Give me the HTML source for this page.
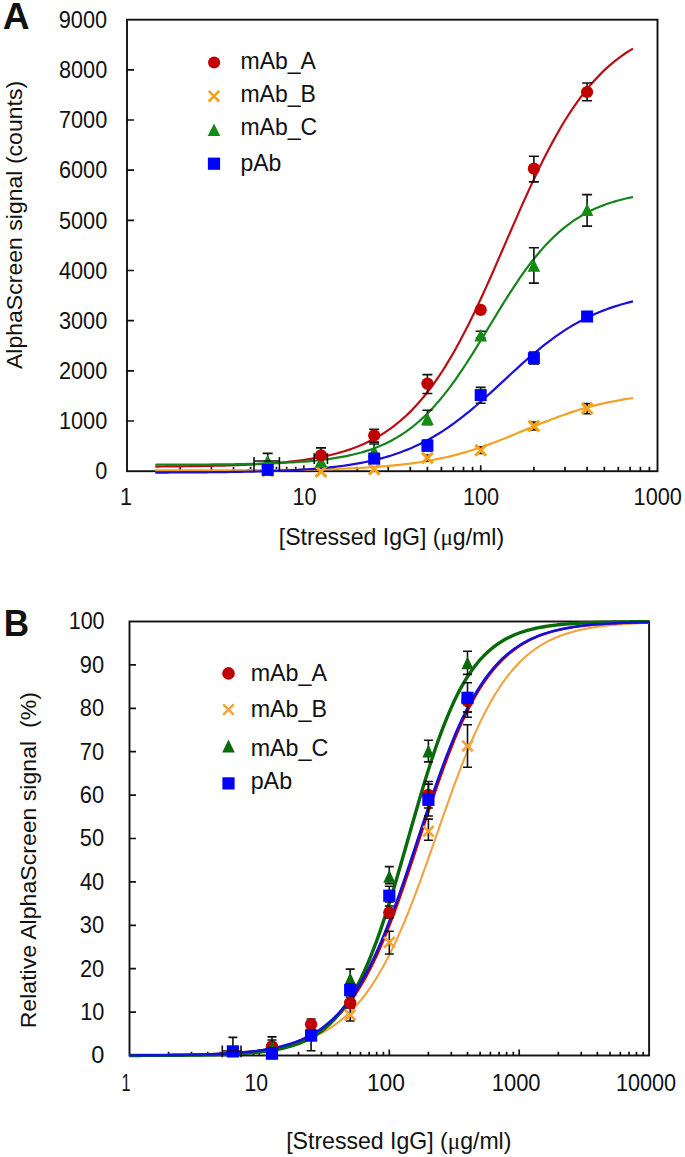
<!DOCTYPE html>
<html><head><meta charset="utf-8"><style>
html,body{margin:0;padding:0;background:#fff;}
body{width:685px;height:1157px;overflow:hidden;}
svg{display:block;}
text{font-family:"Liberation Sans",sans-serif;}
</style></head><body>
<svg width="685" height="1157" viewBox="0 0 685 1157" font-family="Liberation Sans, sans-serif" fill="#111">
<rect width="685" height="1157" fill="#fff"/>
<rect x="127.0" y="19.7" width="530.5" height="451.5" fill="none" stroke="#111" stroke-width="1.9"/>
<path d="M127.0 421.0h7M127.0 370.9h7M127.0 320.7h7M127.0 270.5h7M127.0 220.4h7M127.0 170.2h7M127.0 120.0h7M127.0 69.9h7M180.2 471.2v-4.5M211.4 471.2v-4.5M233.5 471.2v-4.5M250.6 471.2v-4.5M264.6 471.2v-4.5M276.4 471.2v-4.5M286.7 471.2v-4.5M295.7 471.2v-4.5M303.8 471.2v-6M357.1 471.2v-4.5M388.2 471.2v-4.5M410.3 471.2v-4.5M427.4 471.2v-4.5M441.4 471.2v-4.5M453.3 471.2v-4.5M463.5 471.2v-4.5M472.6 471.2v-4.5M480.7 471.2v-6M533.9 471.2v-4.5M565.0 471.2v-4.5M587.1 471.2v-4.5M604.3 471.2v-4.5M618.3 471.2v-4.5M630.1 471.2v-4.5M640.4 471.2v-4.5M649.4 471.2v-4.5" stroke="#111" stroke-width="1.7" fill="none"/>
<polyline fill="none" stroke="#f2a124" stroke-width="2.2" stroke-linejoin="round" stroke-linecap="butt" points="155.3,470.44 158.3,470.44 161.3,470.44 164.3,470.43 167.2,470.43 170.2,470.43 173.2,470.42 176.2,470.42 179.2,470.42 182.2,470.41 185.2,470.41 188.1,470.40 191.1,470.40 194.1,470.39 197.1,470.39 200.1,470.38 203.1,470.38 206.1,470.37 209.0,470.36 212.0,470.35 215.0,470.35 218.0,470.34 221.0,470.33 224.0,470.32 227.0,470.31 229.9,470.30 232.9,470.29 235.9,470.28 238.9,470.26 241.9,470.25 244.9,470.23 247.9,470.22 250.8,470.20 253.8,470.19 256.8,470.17 259.8,470.15 262.8,470.13 265.8,470.10 268.8,470.08 271.7,470.05 274.7,470.03 277.7,470.00 280.7,469.97 283.7,469.94 286.7,469.90 289.7,469.86 292.6,469.83 295.6,469.78 298.6,469.74 301.6,469.69 304.6,469.64 307.6,469.59 310.6,469.54 313.5,469.48 316.5,469.41 319.5,469.35 322.5,469.27 325.5,469.20 328.5,469.12 331.5,469.03 334.4,468.94 337.4,468.85 340.4,468.74 343.4,468.64 346.4,468.52 349.4,468.40 352.4,468.27 355.3,468.13 358.3,467.99 361.3,467.83 364.3,467.67 367.3,467.50 370.3,467.31 373.3,467.12 376.2,466.92 379.2,466.70 382.2,466.47 385.2,466.23 388.2,465.97 391.2,465.70 394.1,465.41 397.1,465.11 400.1,464.79 403.1,464.46 406.1,464.10 409.1,463.73 412.1,463.34 415.0,462.92 418.0,462.49 421.0,462.03 424.0,461.55 427.0,461.05 430.0,460.52 433.0,459.97 435.9,459.39 438.9,458.79 441.9,458.15 444.9,457.49 447.9,456.81 450.9,456.09 453.9,455.34 456.8,454.57 459.8,453.77 462.8,452.93 465.8,452.07 468.8,451.18 471.8,450.25 474.8,449.30 477.7,448.33 480.7,447.32 483.7,446.29 486.7,445.23 489.7,444.15 492.7,443.04 495.7,441.91 498.6,440.77 501.6,439.60 504.6,438.42 507.6,437.22 510.6,436.01 513.6,434.79 516.6,433.57 519.5,432.33 522.5,431.10 525.5,429.86 528.5,428.62 531.5,427.39 534.5,426.16 537.5,424.94 540.4,423.73 543.4,422.54 546.4,421.36 549.4,420.19 552.4,419.05 555.4,417.92 558.4,416.82 561.3,415.73 564.3,414.68 567.3,413.65 570.3,412.64 573.3,411.67 576.3,410.72 579.3,409.80 582.2,408.91 585.2,408.04 588.2,407.21 591.2,406.41 594.2,405.64 597.2,404.89 600.2,404.18 603.1,403.49 606.1,402.83 609.1,402.20 612.1,401.60 615.1,401.02 618.1,400.47 621.1,399.94 624.0,399.44 627.0,398.96 630.0,398.51 633.0,398.07"/>
<polyline fill="none" stroke="#1a10d8" stroke-width="2.2" stroke-linejoin="round" stroke-linecap="butt" points="155.3,472.58 158.3,472.57 161.3,472.56 164.3,472.54 167.2,472.53 170.2,472.52 173.2,472.51 176.2,472.49 179.2,472.48 182.2,472.46 185.2,472.44 188.1,472.42 191.1,472.40 194.1,472.38 197.1,472.36 200.1,472.34 203.1,472.31 206.1,472.29 209.0,472.26 212.0,472.23 215.0,472.20 218.0,472.16 221.0,472.13 224.0,472.09 227.0,472.05 229.9,472.00 232.9,471.96 235.9,471.91 238.9,471.86 241.9,471.80 244.9,471.75 247.9,471.69 250.8,471.62 253.8,471.55 256.8,471.48 259.8,471.40 262.8,471.32 265.8,471.23 268.8,471.14 271.7,471.04 274.7,470.94 277.7,470.82 280.7,470.71 283.7,470.58 286.7,470.45 289.7,470.31 292.6,470.16 295.6,470.00 298.6,469.84 301.6,469.66 304.6,469.47 307.6,469.27 310.6,469.06 313.5,468.84 316.5,468.60 319.5,468.35 322.5,468.09 325.5,467.80 328.5,467.51 331.5,467.19 334.4,466.86 337.4,466.51 340.4,466.13 343.4,465.74 346.4,465.32 349.4,464.88 352.4,464.42 355.3,463.92 358.3,463.41 361.3,462.86 364.3,462.28 367.3,461.67 370.3,461.03 373.3,460.35 376.2,459.63 379.2,458.88 382.2,458.09 385.2,457.26 388.2,456.38 391.2,455.46 394.1,454.50 397.1,453.49 400.1,452.42 403.1,451.31 406.1,450.14 409.1,448.92 412.1,447.65 415.0,446.31 418.0,444.92 421.0,443.47 424.0,441.96 427.0,440.39 430.0,438.75 433.0,437.05 435.9,435.29 438.9,433.46 441.9,431.57 444.9,429.61 447.9,427.60 450.9,425.51 453.9,423.37 456.8,421.17 459.8,418.90 462.8,416.58 465.8,414.21 468.8,411.78 471.8,409.30 474.8,406.78 477.7,404.21 480.7,401.61 483.7,398.96 486.7,396.29 489.7,393.59 492.7,390.86 495.7,388.12 498.6,385.37 501.6,382.60 504.6,379.83 507.6,377.07 510.6,374.31 513.6,371.56 516.6,368.83 519.5,366.12 522.5,363.44 525.5,360.79 528.5,358.17 531.5,355.59 534.5,353.05 537.5,350.56 540.4,348.11 543.4,345.72 546.4,343.38 549.4,341.10 552.4,338.88 555.4,336.72 558.4,334.62 561.3,332.58 564.3,330.60 567.3,328.69 570.3,326.84 573.3,325.06 576.3,323.34 579.3,321.68 582.2,320.09 585.2,318.56 588.2,317.09 591.2,315.68 594.2,314.33 597.2,313.03 600.2,311.79 603.1,310.61 606.1,309.48 609.1,308.40 612.1,307.37 615.1,306.39 618.1,305.46 621.1,304.57 624.0,303.73 627.0,302.92 630.0,302.16 633.0,301.43"/>
<polyline fill="none" stroke="#b90e16" stroke-width="2.2" stroke-linejoin="round" stroke-linecap="butt" points="155.3,466.56 158.3,466.53 161.3,466.51 164.3,466.49 167.2,466.46 170.2,466.44 173.2,466.41 176.2,466.38 179.2,466.35 182.2,466.31 185.2,466.27 188.1,466.24 191.1,466.19 194.1,466.15 197.1,466.10 200.1,466.05 203.1,466.00 206.1,465.95 209.0,465.89 212.0,465.82 215.0,465.76 218.0,465.68 221.0,465.61 224.0,465.53 227.0,465.44 229.9,465.35 232.9,465.25 235.9,465.15 238.9,465.04 241.9,464.93 244.9,464.80 247.9,464.67 250.8,464.53 253.8,464.38 256.8,464.22 259.8,464.06 262.8,463.88 265.8,463.69 268.8,463.49 271.7,463.27 274.7,463.05 277.7,462.81 280.7,462.55 283.7,462.28 286.7,461.99 289.7,461.68 292.6,461.36 295.6,461.01 298.6,460.65 301.6,460.26 304.6,459.84 307.6,459.40 310.6,458.94 313.5,458.44 316.5,457.92 319.5,457.36 322.5,456.77 325.5,456.15 328.5,455.48 331.5,454.78 334.4,454.04 337.4,453.25 340.4,452.41 343.4,451.53 346.4,450.59 349.4,449.60 352.4,448.54 355.3,447.43 358.3,446.26 361.3,445.01 364.3,443.70 367.3,442.31 370.3,440.85 373.3,439.30 376.2,437.66 379.2,435.94 382.2,434.12 385.2,432.21 388.2,430.19 391.2,428.07 394.1,425.83 397.1,423.48 400.1,421.01 403.1,418.42 406.1,415.70 409.1,412.85 412.1,409.86 415.0,406.73 418.0,403.46 421.0,400.04 424.0,396.47 427.0,392.74 430.0,388.86 433.0,384.83 435.9,380.63 438.9,376.26 441.9,371.74 444.9,367.05 447.9,362.20 450.9,357.19 453.9,352.02 456.8,346.70 459.8,341.21 462.8,335.58 465.8,329.80 468.8,323.89 471.8,317.84 474.8,311.66 477.7,305.37 480.7,298.96 483.7,292.46 486.7,285.87 489.7,279.19 492.7,272.45 495.7,265.66 498.6,258.82 501.6,251.95 504.6,245.07 507.6,238.18 510.6,231.29 513.6,224.43 516.6,217.60 519.5,210.82 522.5,204.10 525.5,197.45 528.5,190.87 531.5,184.40 534.5,178.02 537.5,171.75 540.4,165.61 543.4,159.59 546.4,153.71 549.4,147.97 552.4,142.37 555.4,136.93 558.4,131.64 561.3,126.51 564.3,121.54 567.3,116.73 570.3,112.09 573.3,107.60 576.3,103.28 579.3,99.12 582.2,95.13 585.2,91.28 588.2,87.60 591.2,84.07 594.2,80.69 597.2,77.45 600.2,74.36 603.1,71.40 606.1,68.59 609.1,65.90 612.1,63.34 615.1,60.90 618.1,58.58 621.1,56.37 624.0,54.28 627.0,52.29 630.0,50.40 633.0,48.60"/>
<polyline fill="none" stroke="#16841a" stroke-width="2.2" stroke-linejoin="round" stroke-linecap="butt" points="155.3,464.73 158.3,464.72 161.3,464.72 164.3,464.71 167.2,464.70 170.2,464.69 173.2,464.68 176.2,464.67 179.2,464.66 182.2,464.65 185.2,464.63 188.1,464.62 191.1,464.60 194.1,464.59 197.1,464.57 200.1,464.55 203.1,464.53 206.1,464.51 209.0,464.49 212.0,464.46 215.0,464.43 218.0,464.41 221.0,464.38 224.0,464.34 227.0,464.31 229.9,464.27 232.9,464.23 235.9,464.18 238.9,464.14 241.9,464.08 244.9,464.03 247.9,463.97 250.8,463.91 253.8,463.84 256.8,463.77 259.8,463.69 262.8,463.61 265.8,463.52 268.8,463.42 271.7,463.32 274.7,463.21 277.7,463.09 280.7,462.96 283.7,462.82 286.7,462.68 289.7,462.52 292.6,462.35 295.6,462.17 298.6,461.97 301.6,461.76 304.6,461.54 307.6,461.30 310.6,461.04 313.5,460.76 316.5,460.47 319.5,460.15 322.5,459.81 325.5,459.45 328.5,459.06 331.5,458.64 334.4,458.19 337.4,457.71 340.4,457.20 343.4,456.65 346.4,456.06 349.4,455.44 352.4,454.77 355.3,454.05 358.3,453.28 361.3,452.47 364.3,451.59 367.3,450.66 370.3,449.67 373.3,448.61 376.2,447.49 379.2,446.29 382.2,445.01 385.2,443.66 388.2,442.21 391.2,440.69 394.1,439.06 397.1,437.34 400.1,435.52 403.1,433.59 406.1,431.56 409.1,429.41 412.1,427.14 415.0,424.75 418.0,422.24 421.0,419.60 424.0,416.83 427.0,413.92 430.0,410.88 433.0,407.71 435.9,404.40 438.9,400.96 441.9,397.38 444.9,393.67 447.9,389.82 450.9,385.85 453.9,381.76 456.8,377.54 459.8,373.22 462.8,368.78 465.8,364.25 468.8,359.64 471.8,354.94 474.8,350.17 477.7,345.35 480.7,340.47 483.7,335.57 486.7,330.64 489.7,325.70 492.7,320.76 495.7,315.84 498.6,310.94 501.6,306.09 504.6,301.28 507.6,296.54 510.6,291.87 513.6,287.29 516.6,282.79 519.5,278.40 522.5,274.12 525.5,269.95 528.5,265.90 531.5,261.98 534.5,258.19 537.5,254.52 540.4,251.00 543.4,247.61 546.4,244.35 549.4,241.23 552.4,238.24 555.4,235.39 558.4,232.67 561.3,230.08 564.3,227.62 567.3,225.27 570.3,223.05 573.3,220.95 576.3,218.95 579.3,217.07 582.2,215.28 585.2,213.60 588.2,212.02 591.2,210.52 594.2,209.11 597.2,207.79 600.2,206.54 603.1,205.37 606.1,204.27 609.1,203.24 612.1,202.27 615.1,201.37 618.1,200.52 621.1,199.72 624.0,198.97 627.0,198.27 630.0,197.62 633.0,197.01"/>
<path d="M262.3 465.6L273.1 476.4M262.3 476.4L273.1 465.6" stroke="#f7a11a" stroke-width="3.0" stroke-linecap="butt"/>
<path d="M315.6 466.1L326.4 476.9M315.6 476.9L326.4 466.1" stroke="#f7a11a" stroke-width="3.0" stroke-linecap="butt"/>
<path d="M368.8 463.8L379.6 474.6M368.8 474.6L379.6 463.8" stroke="#f7a11a" stroke-width="3.0" stroke-linecap="butt"/>
<path d="M427.4 455.0V461.0M423.4 455.0h8.0M423.4 461.0h8.0" stroke="#111" stroke-width="1.6" fill="none"/>
<path d="M422.0 452.6L432.8 463.4M422.0 463.4L432.8 452.6" stroke="#f7a11a" stroke-width="3.0" stroke-linecap="butt"/>
<path d="M480.7 447.0V453.5M476.7 447.0h8.0M476.7 453.5h8.0" stroke="#111" stroke-width="1.6" fill="none"/>
<path d="M475.3 444.9L486.1 455.7M475.3 455.7L486.1 444.9" stroke="#f7a11a" stroke-width="3.0" stroke-linecap="butt"/>
<path d="M533.9 422.0V430.0M529.9 422.0h8.0M529.9 430.0h8.0" stroke="#111" stroke-width="1.6" fill="none"/>
<path d="M528.5 420.6L539.3 431.4M528.5 431.4L539.3 420.6" stroke="#f7a11a" stroke-width="3.0" stroke-linecap="butt"/>
<path d="M587.1 403.6V413.7M583.1 403.6h8.0M583.1 413.7h8.0" stroke="#111" stroke-width="1.6" fill="none"/>
<path d="M581.7 403.1L592.5 413.9M581.7 413.9L592.5 403.1" stroke="#f7a11a" stroke-width="3.0" stroke-linecap="butt"/>
<path d="M267.7 453.4V470.0M262.7 453.4h10.0M262.7 470.0h10.0" stroke="#111" stroke-width="1.6" fill="none"/>
<polygon points="267.7,454.5 261.4,467.0 274.0,467.0" fill="#128c12"/>
<path d="M321.0 447.9V466.0M316.0 447.9h10.0M316.0 466.0h10.0" stroke="#111" stroke-width="1.6" fill="none"/>
<polygon points="321.0,455.0 314.7,467.5 327.3,467.5" fill="#128c12"/>
<path d="M374.2 444.0V456.0M369.2 444.0h10.0M369.2 456.0h10.0" stroke="#111" stroke-width="1.6" fill="none"/>
<polygon points="374.2,445.0 367.9,457.5 380.5,457.5" fill="#128c12"/>
<path d="M427.4 410.3V424.8M422.4 410.3h10.0M422.4 424.8h10.0" stroke="#111" stroke-width="1.6" fill="none"/>
<polygon points="427.4,412.5 421.1,425.0 433.7,425.0" fill="#128c12"/>
<path d="M480.7 331.2V338.0M475.7 331.2h10.0M475.7 338.0h10.0" stroke="#111" stroke-width="1.6" fill="none"/>
<polygon points="480.7,329.1 474.4,341.6 487.0,341.6" fill="#128c12"/>
<path d="M533.9 247.7V283.1M528.9 247.7h10.0M528.9 283.1h10.0" stroke="#111" stroke-width="1.6" fill="none"/>
<polygon points="533.9,259.3 527.6,271.8 540.2,271.8" fill="#128c12"/>
<path d="M587.1 194.6V226.1M582.1 194.6h10.0M582.1 226.1h10.0" stroke="#111" stroke-width="1.6" fill="none"/>
<polygon points="587.1,203.5 580.8,216.0 593.4,216.0" fill="#128c12"/>
<rect x="261.7" y="463.9" width="12" height="12" fill="#0000ff"/>
<rect x="368.2" y="452.6" width="12" height="12" fill="#0000ff"/>
<path d="M427.4 440.0V451.0M422.4 440.0h10.0M422.4 451.0h10.0" stroke="#111" stroke-width="1.6" fill="none"/>
<rect x="421.4" y="439.6" width="12" height="12" fill="#0000ff"/>
<path d="M480.7 387.4V403.2M475.7 387.4h10.0M475.7 403.2h10.0" stroke="#111" stroke-width="1.6" fill="none"/>
<rect x="474.7" y="389.1" width="12" height="12" fill="#0000ff"/>
<path d="M533.9 352.0V364.0M528.9 352.0h10.0M528.9 364.0h10.0" stroke="#111" stroke-width="1.6" fill="none"/>
<rect x="527.9" y="352.2" width="12" height="12" fill="#0000ff"/>
<rect x="581.1" y="310.5" width="12" height="12" fill="#0000ff"/>
<circle cx="321.0" cy="455.3" r="6.1" fill="#c00000"/>
<path d="M374.2 429.2V442.1M369.2 429.2h10.0M369.2 442.1h10.0" stroke="#111" stroke-width="1.6" fill="none"/>
<circle cx="374.2" cy="435.4" r="6.1" fill="#c00000"/>
<path d="M427.4 374.6V393.5M422.4 374.6h10.0M422.4 393.5h10.0" stroke="#111" stroke-width="1.6" fill="none"/>
<circle cx="427.4" cy="383.6" r="6.1" fill="#c00000"/>
<circle cx="480.7" cy="309.9" r="6.1" fill="#c00000"/>
<path d="M533.9 156.2V181.9M528.9 156.2h10.0M528.9 181.9h10.0" stroke="#111" stroke-width="1.6" fill="none"/>
<circle cx="533.9" cy="168.6" r="6.1" fill="#c00000"/>
<path d="M587.1 83.0V100.7M582.1 83.0h10.0M582.1 100.7h10.0" stroke="#111" stroke-width="1.6" fill="none"/>
<circle cx="587.1" cy="92.0" r="6.1" fill="#c00000"/>
<path d="M254 457V471M279.4 457V471M254 461H279.4M314.2 453.3V464M327.4 453.3V464" stroke="#111" stroke-width="1.6" fill="none"/>
<circle cx="214.1" cy="62.5" r="6.1" fill="#c00000"/>
<path d="M208.7 90.9L219.3 101.5M208.7 101.5L219.3 90.9" stroke="#f7a11a" stroke-width="2.6" stroke-linecap="butt"/>
<polygon points="214.0,123.4 207.7,136.1 220.3,136.1" fill="#128c12"/>
<rect x="207.9" y="157.6" width="12.2" height="12.2" fill="#0000ff"/>
<rect x="129.5" y="621.5" width="519.6" height="434.0" fill="none" stroke="#111" stroke-width="1.9"/>
<path d="M129.5 1012.1h6.5M129.5 968.7h6.5M129.5 925.3h6.5M129.5 881.9h6.5M129.5 838.5h6.5M129.5 795.1h6.5M129.5 751.7h6.5M129.5 708.3h6.5M129.5 664.9h6.5M168.6 1055.5v-3.8M191.5 1055.5v-3.8M207.7 1055.5v-3.8M220.3 1055.5v-3.8M230.6 1055.5v-3.8M239.3 1055.5v-3.8M246.8 1055.5v-3.8M253.5 1055.5v-3.8M259.4 1055.5v-6M298.5 1055.5v-3.8M321.4 1055.5v-3.8M337.6 1055.5v-3.8M350.2 1055.5v-3.8M360.5 1055.5v-3.8M369.2 1055.5v-3.8M376.7 1055.5v-3.8M383.4 1055.5v-3.8M389.3 1055.5v-6M428.4 1055.5v-3.8M451.3 1055.5v-3.8M467.5 1055.5v-3.8M480.1 1055.5v-3.8M490.4 1055.5v-3.8M499.1 1055.5v-3.8M506.6 1055.5v-3.8M513.3 1055.5v-3.8M519.2 1055.5v-6M558.3 1055.5v-3.8M581.2 1055.5v-3.8M597.4 1055.5v-3.8M610.0 1055.5v-3.8M620.3 1055.5v-3.8M629.0 1055.5v-3.8M636.5 1055.5v-3.8M643.2 1055.5v-3.8" stroke="#111" stroke-width="1.7" fill="none"/>
<polyline fill="none" stroke="#f4a23c" stroke-width="2.1" stroke-linejoin="round" points="129.5,1055.29 131.7,1055.28 133.8,1055.27 136.0,1055.25 138.2,1055.24 140.3,1055.23 142.5,1055.21 144.7,1055.20 146.8,1055.18 149.0,1055.16 151.2,1055.14 153.3,1055.12 155.5,1055.10 157.6,1055.08 159.8,1055.06 162.0,1055.04 164.1,1055.01 166.3,1054.98 168.5,1054.96 170.6,1054.93 172.8,1054.89 175.0,1054.86 177.1,1054.83 179.3,1054.79 181.5,1054.75 183.6,1054.71 185.8,1054.67 188.0,1054.62 190.1,1054.57 192.3,1054.52 194.4,1054.47 196.6,1054.42 198.8,1054.36 200.9,1054.29 203.1,1054.23 205.3,1054.16 207.4,1054.09 209.6,1054.01 211.8,1053.93 213.9,1053.84 216.1,1053.75 218.3,1053.66 220.4,1053.56 222.6,1053.45 224.8,1053.34 226.9,1053.22 229.1,1053.10 231.3,1052.97 233.4,1052.83 235.6,1052.69 237.8,1052.53 239.9,1052.37 242.1,1052.20 244.2,1052.03 246.4,1051.84 248.6,1051.64 250.7,1051.43 252.9,1051.21 255.1,1050.98 257.2,1050.73 259.4,1050.47 261.6,1050.20 263.7,1049.91 265.9,1049.61 268.1,1049.29 270.2,1048.96 272.4,1048.61 274.6,1048.23 276.7,1047.84 278.9,1047.43 281.1,1047.00 283.2,1046.54 285.4,1046.06 287.5,1045.55 289.7,1045.02 291.9,1044.46 294.0,1043.86 296.2,1043.24 298.4,1042.59 300.5,1041.90 302.7,1041.17 304.9,1040.41 307.0,1039.61 309.2,1038.76 311.4,1037.88 313.5,1036.95 315.7,1035.97 317.9,1034.94 320.0,1033.86 322.2,1032.72 324.4,1031.53 326.5,1030.28 328.7,1028.96 330.8,1027.58 333.0,1026.14 335.2,1024.62 337.3,1023.03 339.5,1021.36 341.7,1019.62 343.8,1017.79 346.0,1015.88 348.2,1013.87 350.3,1011.78 352.5,1009.59 354.7,1007.30 356.8,1004.92 359.0,1002.42 361.2,999.82 363.3,997.11 365.5,994.28 367.6,991.34 369.8,988.28 372.0,985.09 374.1,981.79 376.3,978.35 378.5,974.79 380.6,971.09 382.8,967.27 385.0,963.31 387.1,959.22 389.3,955.00 391.5,950.64 393.6,946.15 395.8,941.52 398.0,936.77 400.1,931.89 402.3,926.88 404.5,921.75 406.6,916.50 408.8,911.14 410.9,905.67 413.1,900.09 415.3,894.41 417.4,888.65 419.6,882.80 421.8,876.88 423.9,870.88 426.1,864.83 428.3,858.73 430.4,852.59 432.6,846.41 434.8,840.22 436.9,834.01 439.1,827.81 441.3,821.61 443.4,815.44 445.6,809.29 447.8,803.19 449.9,797.13 452.1,791.14 454.2,785.21 456.4,779.36 458.6,773.60 460.7,767.93 462.9,762.36 465.1,756.89 467.2,751.54 469.4,746.31 471.6,741.20 473.7,736.22 475.9,731.37 478.1,726.65 480.2,722.07 482.4,717.63 484.6,713.33 486.7,709.17 488.9,705.14 491.1,701.26 493.2,697.52 495.4,693.91 497.6,690.44 499.7,687.11 501.9,683.90 504.0,680.83 506.2,677.88 508.4,675.06 510.5,672.36 512.7,669.78 514.9,667.31 517.0,664.95 519.2,662.70 521.4,660.56 523.5,658.51 525.7,656.57 527.9,654.71 530.0,652.95 532.2,651.27 534.4,649.67 536.5,648.16 538.7,646.72 540.9,645.35 543.0,644.06 545.2,642.83 547.3,641.66 549.5,640.55 551.7,639.51 553.8,638.51 556.0,637.57 558.2,636.68 560.3,635.84 562.5,635.04 564.7,634.29 566.8,633.57 569.0,632.90 571.2,632.26 573.3,631.66 575.5,631.09 577.7,630.55 579.8,630.04 582.0,629.56 584.1,629.10 586.3,628.67 588.5,628.27 590.6,627.88 592.8,627.52 595.0,627.18 597.1,626.86 599.3,626.55 601.5,626.26 603.6,625.99 605.8,625.74 608.0,625.50 610.1,625.27 612.3,625.05 614.5,624.85 616.6,624.66 618.8,624.48 621.0,624.31 623.1,624.15 625.3,624.00 627.5,623.85 629.6,623.72 631.8,623.59 633.9,623.47 636.1,623.36 638.3,623.25 640.4,623.15 642.6,623.06 644.8,622.97 646.9,622.88 649.1,622.81"/>
<polyline fill="none" stroke="#c00008" stroke-width="2.4" stroke-linejoin="round" points="129.5,1055.38 132.1,1055.37 134.7,1055.36 137.3,1055.35 139.9,1055.33 142.5,1055.32 145.1,1055.31 147.7,1055.29 150.3,1055.28 152.9,1055.26 155.5,1055.24 158.1,1055.22 160.7,1055.20 163.3,1055.18 165.9,1055.16 168.5,1055.13 171.1,1055.10 173.7,1055.07 176.3,1055.04 178.9,1055.01 181.5,1054.97 184.1,1054.93 186.7,1054.88 189.3,1054.84 191.9,1054.79 194.4,1054.73 197.0,1054.68 199.6,1054.61 202.2,1054.55 204.8,1054.47 207.4,1054.40 210.0,1054.31 212.6,1054.22 215.2,1054.13 217.8,1054.02 220.4,1053.91 223.0,1053.79 225.6,1053.66 228.2,1053.52 230.8,1053.37 233.4,1053.21 236.0,1053.04 238.6,1052.86 241.2,1052.66 243.8,1052.44 246.4,1052.21 249.0,1051.96 251.6,1051.70 254.2,1051.41 256.8,1051.11 259.4,1050.78 262.0,1050.42 264.6,1050.04 267.2,1049.63 269.8,1049.19 272.4,1048.72 275.0,1048.22 277.6,1047.68 280.2,1047.09 282.8,1046.47 285.4,1045.80 288.0,1045.08 290.6,1044.31 293.2,1043.48 295.8,1042.60 298.4,1041.65 301.0,1040.64 303.6,1039.55 306.2,1038.39 308.8,1037.15 311.4,1035.82 314.0,1034.39 316.6,1032.88 319.2,1031.26 321.8,1029.53 324.4,1027.68 326.9,1025.72 329.5,1023.62 332.1,1021.39 334.7,1019.02 337.3,1016.51 339.9,1013.83 342.5,1010.99 345.1,1007.99 347.7,1004.80 350.3,1001.44 352.9,997.88 355.5,994.12 358.1,990.17 360.7,986.01 363.3,981.63 365.9,977.04 368.5,972.23 371.1,967.20 373.7,961.94 376.3,956.46 378.9,950.76 381.5,944.84 384.1,938.70 386.7,932.36 389.3,925.80 391.9,919.06 394.5,912.13 397.1,905.02 399.7,897.75 402.3,890.34 404.9,882.79 407.5,875.13 410.1,867.38 412.7,859.55 415.3,851.67 417.9,843.75 420.5,835.81 423.1,827.89 425.7,819.99 428.3,812.14 430.9,804.36 433.5,796.67 436.1,789.09 438.7,781.63 441.3,774.31 443.9,767.15 446.5,760.16 449.1,753.35 451.7,746.74 454.2,740.33 456.8,734.12 459.4,728.13 462.0,722.36 464.6,716.81 467.2,711.48 469.8,706.37 472.4,701.49 475.0,696.83 477.6,692.38 480.2,688.15 482.8,684.13 485.4,680.31 488.0,676.69 490.6,673.26 493.2,670.02 495.8,666.96 498.4,664.07 501.0,661.34 503.6,658.77 506.2,656.36 508.8,654.08 511.4,651.95 514.0,649.94 516.6,648.06 519.2,646.29 521.8,644.64 524.4,643.08 527.0,641.63 529.6,640.27 532.2,639.00 534.8,637.82 537.4,636.71 540.0,635.67 542.6,634.70 545.2,633.80 547.8,632.95 550.4,632.16 553.0,631.43 555.6,630.74 558.2,630.10 560.8,629.51 563.4,628.95 566.0,628.44 568.6,627.95 571.2,627.51 573.8,627.09 576.4,626.70 579.0,626.34 581.6,626.00 584.1,625.68 586.7,625.39 589.3,625.12 591.9,624.87 594.5,624.63 597.1,624.41 599.7,624.21 602.3,624.02 604.9,623.84 607.5,623.68 610.1,623.52 612.7,623.38 615.3,623.25 617.9,623.13 620.5,623.01 623.1,622.91 625.7,622.81 628.3,622.72 630.9,622.63 633.5,622.55 636.1,622.48 638.7,622.41 641.3,622.34 643.9,622.28 646.5,622.23 649.1,622.18"/>
<polyline fill="none" stroke="#0a6a0a" stroke-width="3.4" stroke-linejoin="round" points="129.5,1055.45 132.1,1055.44 134.7,1055.44 137.3,1055.43 139.9,1055.43 142.5,1055.42 145.1,1055.42 147.7,1055.41 150.3,1055.40 152.9,1055.39 155.5,1055.38 158.1,1055.37 160.7,1055.36 163.3,1055.35 165.9,1055.33 168.5,1055.32 171.1,1055.30 173.7,1055.29 176.3,1055.27 178.9,1055.25 181.5,1055.22 184.1,1055.20 186.7,1055.17 189.3,1055.15 191.9,1055.11 194.4,1055.08 197.0,1055.04 199.6,1055.00 202.2,1054.96 204.8,1054.91 207.4,1054.86 210.0,1054.80 212.6,1054.74 215.2,1054.68 217.8,1054.60 220.4,1054.53 223.0,1054.44 225.6,1054.35 228.2,1054.25 230.8,1054.14 233.4,1054.02 236.0,1053.89 238.6,1053.74 241.2,1053.59 243.8,1053.42 246.4,1053.24 249.0,1053.04 251.6,1052.83 254.2,1052.60 256.8,1052.34 259.4,1052.07 262.0,1051.77 264.6,1051.44 267.2,1051.09 269.8,1050.70 272.4,1050.29 275.0,1049.83 277.6,1049.34 280.2,1048.81 282.8,1048.23 285.4,1047.60 288.0,1046.92 290.6,1046.18 293.2,1045.38 295.8,1044.51 298.4,1043.57 301.0,1042.55 303.6,1041.45 306.2,1040.26 308.8,1038.97 311.4,1037.57 314.0,1036.06 316.6,1034.44 319.2,1032.68 321.8,1030.79 324.4,1028.75 326.9,1026.55 329.5,1024.18 332.1,1021.64 334.7,1018.91 337.3,1015.99 339.9,1012.85 342.5,1009.50 345.1,1005.91 347.7,1002.08 350.3,998.00 352.9,993.66 355.5,989.06 358.1,984.17 360.7,979.00 363.3,973.54 365.9,967.78 368.5,961.73 371.1,955.38 373.7,948.73 376.3,941.80 378.9,934.58 381.5,927.09 384.1,919.33 386.7,911.33 389.3,903.10 391.9,894.65 394.5,886.02 397.1,877.24 399.7,868.31 402.3,859.29 404.9,850.19 407.5,841.05 410.1,831.90 412.7,822.77 415.3,813.70 417.9,804.72 420.5,795.85 423.1,787.13 425.7,778.58 428.3,770.23 430.9,762.09 433.5,754.20 436.1,746.56 438.7,739.18 441.3,732.09 443.9,725.28 446.5,718.77 449.1,712.55 451.7,706.63 454.2,701.01 456.8,695.67 459.4,690.63 462.0,685.87 464.6,681.38 467.2,677.16 469.8,673.19 472.4,669.47 475.0,665.99 477.6,662.73 480.2,659.69 482.8,656.85 485.4,654.21 488.0,651.75 490.6,649.46 493.2,647.33 495.8,645.36 498.4,643.52 501.0,641.83 503.6,640.25 506.2,638.80 508.8,637.45 511.4,636.20 514.0,635.05 516.6,633.99 519.2,633.00 521.8,632.09 524.4,631.26 527.0,630.48 529.6,629.77 532.2,629.11 534.8,628.51 537.4,627.95 540.0,627.43 542.6,626.96 545.2,626.52 547.8,626.12 550.4,625.75 553.0,625.41 555.6,625.10 558.2,624.81 560.8,624.54 563.4,624.30 566.0,624.07 568.6,623.87 571.2,623.68 573.8,623.50 576.4,623.34 579.0,623.19 581.6,623.05 584.1,622.93 586.7,622.81 589.3,622.71 591.9,622.61 594.5,622.52 597.1,622.44 599.7,622.36 602.3,622.29 604.9,622.23 607.5,622.17 610.1,622.12 612.7,622.07 615.3,622.02 617.9,621.98 620.5,621.94 623.1,621.90 625.7,621.87 628.3,621.84 630.9,621.81 633.5,621.79 636.1,621.77 638.7,621.74 641.3,621.72 643.9,621.71 646.5,621.69 649.1,621.67"/>
<polyline fill="none" stroke="#1010e0" stroke-width="2.4" stroke-linejoin="round" points="129.5,1055.37 132.1,1055.36 134.7,1055.35 137.3,1055.34 139.9,1055.32 142.5,1055.31 145.1,1055.29 147.7,1055.28 150.3,1055.26 152.9,1055.24 155.5,1055.23 158.1,1055.20 160.7,1055.18 163.3,1055.16 165.9,1055.13 168.5,1055.10 171.1,1055.07 173.7,1055.04 176.3,1055.01 178.9,1054.97 181.5,1054.93 184.1,1054.89 186.7,1054.84 189.3,1054.79 191.9,1054.74 194.4,1054.68 197.0,1054.62 199.6,1054.55 202.2,1054.48 204.8,1054.41 207.4,1054.32 210.0,1054.23 212.6,1054.14 215.2,1054.04 217.8,1053.93 220.4,1053.81 223.0,1053.68 225.6,1053.54 228.2,1053.39 230.8,1053.24 233.4,1053.07 236.0,1052.88 238.6,1052.69 241.2,1052.48 243.8,1052.25 246.4,1052.00 249.0,1051.74 251.6,1051.46 254.2,1051.16 256.8,1050.83 259.4,1050.48 262.0,1050.11 264.6,1049.71 267.2,1049.28 269.8,1048.81 272.4,1048.32 275.0,1047.78 277.6,1047.21 280.2,1046.60 282.8,1045.94 285.4,1045.23 288.0,1044.47 290.6,1043.66 293.2,1042.79 295.8,1041.86 298.4,1040.87 301.0,1039.80 303.6,1038.66 306.2,1037.44 308.8,1036.13 311.4,1034.74 314.0,1033.25 316.6,1031.66 319.2,1029.96 321.8,1028.15 324.4,1026.22 326.9,1024.17 329.5,1021.98 332.1,1019.66 334.7,1017.18 337.3,1014.56 339.9,1011.78 342.5,1008.83 345.1,1005.70 347.7,1002.40 350.3,998.90 352.9,995.22 355.5,991.33 358.1,987.24 360.7,982.94 363.3,978.43 365.9,973.70 368.5,968.75 371.1,963.58 373.7,958.19 376.3,952.58 378.9,946.74 381.5,940.69 384.1,934.43 386.7,927.97 389.3,921.30 391.9,914.45 394.5,907.43 397.1,900.24 399.7,892.89 402.3,885.41 404.9,877.82 407.5,870.12 410.1,862.34 412.7,854.50 415.3,846.61 417.9,838.71 420.5,830.80 423.1,822.92 425.7,815.07 428.3,807.29 430.9,799.58 433.5,791.98 436.1,784.50 438.7,777.15 441.3,769.95 443.9,762.91 446.5,756.05 449.1,749.38 451.7,742.90 454.2,736.63 456.8,730.57 459.4,724.73 462.0,719.10 464.6,713.70 467.2,708.51 469.8,703.55 472.4,698.81 475.0,694.29 477.6,689.98 480.2,685.88 482.8,681.98 485.4,678.29 488.0,674.78 490.6,671.47 493.2,668.33 495.8,665.37 498.4,662.58 501.0,659.95 503.6,657.47 506.2,655.14 508.8,652.94 511.4,650.88 514.0,648.95 516.6,647.13 519.2,645.43 521.8,643.83 524.4,642.34 527.0,640.94 529.6,639.63 532.2,638.40 534.8,637.26 537.4,636.19 540.0,635.19 542.6,634.25 545.2,633.38 547.8,632.57 550.4,631.81 553.0,631.10 555.6,630.44 558.2,629.82 560.8,629.25 563.4,628.71 566.0,628.21 568.6,627.75 571.2,627.31 573.8,626.91 576.4,626.53 579.0,626.18 581.6,625.86 584.1,625.55 586.7,625.27 589.3,625.01 591.9,624.76 594.5,624.54 597.1,624.32 599.7,624.13 602.3,623.94 604.9,623.77 607.5,623.61 610.1,623.47 612.7,623.33 615.3,623.20 617.9,623.08 620.5,622.97 623.1,622.87 625.7,622.77 628.3,622.68 630.9,622.60 633.5,622.52 636.1,622.45 638.7,622.38 641.3,622.32 643.9,622.26 646.5,622.21 649.1,622.16"/>
<path d="M350.2 1007.0V1021.0M345.7 1007.0h9.0M345.7 1021.0h9.0" stroke="#111" stroke-width="1.6" fill="none"/>
<path d="M344.9 1009.7L355.5 1020.3M344.9 1020.3L355.5 1009.7" stroke="#f4a23c" stroke-width="2.7" stroke-linecap="butt"/>
<path d="M389.3 931.3V954.0M384.8 931.3h9.0M384.8 954.0h9.0" stroke="#111" stroke-width="1.6" fill="none"/>
<path d="M384.0 937.0L394.6 947.6M384.0 947.6L394.6 937.0" stroke="#f4a23c" stroke-width="2.7" stroke-linecap="butt"/>
<path d="M428.4 819.1V840.2M423.9 819.1h9.0M423.9 840.2h9.0" stroke="#111" stroke-width="1.6" fill="none"/>
<path d="M423.1 826.0L433.7 836.6M423.1 836.6L433.7 826.0" stroke="#f4a23c" stroke-width="2.7" stroke-linecap="butt"/>
<path d="M467.5 724.7V767.3M463.0 724.7h9.0M463.0 767.3h9.0" stroke="#111" stroke-width="1.6" fill="none"/>
<path d="M462.2 740.7L472.8 751.3M462.2 751.3L472.8 740.7" stroke="#f4a23c" stroke-width="2.7" stroke-linecap="butt"/>
<path d="M272.0 1036.9V1050.0M267.5 1036.9h9.0M267.5 1050.0h9.0" stroke="#111" stroke-width="1.6" fill="none"/>
<circle cx="272.0" cy="1046.4" r="6.2" fill="#c00008"/>
<path d="M311.1 1019.0V1030.0M306.6 1019.0h9.0M306.6 1030.0h9.0" stroke="#111" stroke-width="1.6" fill="none"/>
<circle cx="311.1" cy="1024.3" r="6.2" fill="#c00008"/>
<path d="M350.2 997.0V1008.0M345.7 997.0h9.0M345.7 1008.0h9.0" stroke="#111" stroke-width="1.6" fill="none"/>
<circle cx="350.2" cy="1003.0" r="6.2" fill="#c00008"/>
<path d="M389.3 906.0V918.0M384.8 906.0h9.0M384.8 918.0h9.0" stroke="#111" stroke-width="1.6" fill="none"/>
<circle cx="389.3" cy="912.6" r="6.2" fill="#c00008"/>
<path d="M428.4 784.1V808.0M423.9 784.1h9.0M423.9 808.0h9.0" stroke="#111" stroke-width="1.6" fill="none"/>
<circle cx="428.4" cy="795.0" r="6.2" fill="#c00008"/>
<path d="M467.5 712.0V717.3M463.0 712.0h9.0M463.0 717.3h9.0" stroke="#111" stroke-width="1.6" fill="none"/>
<circle cx="467.5" cy="701.0" r="6.2" fill="#c00008"/>
<path d="M272.0 1040.0V1052.0M267.5 1040.0h9.0M267.5 1052.0h9.0" stroke="#111" stroke-width="1.6" fill="none"/>
<polygon points="272.0,1040.8 266.0,1053.8 278.0,1053.8" fill="#0a6a0a"/>
<path d="M311.1 1030.0V1040.0M306.6 1030.0h9.0M306.6 1040.0h9.0" stroke="#111" stroke-width="1.6" fill="none"/>
<polygon points="311.1,1028.2 305.1,1041.2 317.1,1041.2" fill="#0a6a0a"/>
<path d="M350.2 969.1V990.0M345.7 969.1h9.0M345.7 990.0h9.0" stroke="#111" stroke-width="1.6" fill="none"/>
<polygon points="350.2,972.2 344.2,985.2 356.2,985.2" fill="#0a6a0a"/>
<path d="M389.3 866.6V883.6M384.8 866.6h9.0M384.8 883.6h9.0" stroke="#111" stroke-width="1.6" fill="none"/>
<polygon points="389.3,869.8 383.3,882.8 395.3,882.8" fill="#0a6a0a"/>
<path d="M428.4 740.2V761.9M423.9 740.2h9.0M423.9 761.9h9.0" stroke="#111" stroke-width="1.6" fill="none"/>
<polygon points="428.4,744.6 422.4,757.6 434.4,757.6" fill="#0a6a0a"/>
<path d="M467.5 651.3V674.4M463.0 651.3h9.0M463.0 674.4h9.0" stroke="#111" stroke-width="1.6" fill="none"/>
<polygon points="467.5,656.2 461.5,669.2 473.5,669.2" fill="#0a6a0a"/>
<path d="M232.9 1037.4V1056.0M228.4 1037.4h9.0M228.4 1056.0h9.0" stroke="#111" stroke-width="1.6" fill="none"/>
<rect x="226.8" y="1045.3" width="12.2" height="12.2" fill="#0000ff"/>
<path d="M272.0 1048.0V1058.0M267.5 1048.0h9.0M267.5 1058.0h9.0" stroke="#111" stroke-width="1.6" fill="none"/>
<rect x="265.9" y="1047.6" width="12.2" height="12.2" fill="#0000ff"/>
<path d="M311.1 1030.0V1050.7M306.6 1030.0h9.0M306.6 1050.7h9.0" stroke="#111" stroke-width="1.6" fill="none"/>
<rect x="305.0" y="1029.4" width="12.2" height="12.2" fill="#0000ff"/>
<path d="M350.2 984.0V995.0M345.7 984.0h9.0M345.7 995.0h9.0" stroke="#111" stroke-width="1.6" fill="none"/>
<rect x="344.1" y="984.0" width="12.2" height="12.2" fill="#0000ff"/>
<path d="M389.3 886.3V902.0M384.8 886.3h9.0M384.8 902.0h9.0" stroke="#111" stroke-width="1.6" fill="none"/>
<rect x="383.2" y="889.6" width="12.2" height="12.2" fill="#0000ff"/>
<path d="M428.4 781.5V816.0M423.9 781.5h9.0M423.9 816.0h9.0" stroke="#111" stroke-width="1.6" fill="none"/>
<rect x="422.3" y="793.7" width="12.2" height="12.2" fill="#0000ff"/>
<path d="M467.5 682.7V712.0M463.0 682.7h9.0M463.0 712.0h9.0" stroke="#111" stroke-width="1.6" fill="none"/>
<rect x="461.4" y="691.7" width="12.2" height="12.2" fill="#0000ff"/>
<path d="M222.3 1045.5V1057.2M241 1045.5V1057.2M222.3 1051H241" stroke="#111" stroke-width="1.6" fill="none"/>
<circle cx="228.5" cy="673.4" r="6.3" fill="#c00008"/>
<path d="M223.2 704.3L233.8 714.9M223.2 714.9L233.8 704.3" stroke="#f4a23c" stroke-width="2.4" stroke-linecap="butt"/>
<polygon points="228.5,739.5 222.2,752.6 234.8,752.6" fill="#0a6a0a"/>
<rect x="222.4" y="777.3" width="12.2" height="12.2" fill="#0000ff"/>
<g fill="#111">
<text transform="matrix(1.0947,0,0,1.0665,2.79,28.76)" font-size="34" font-weight="bold" xml:space="preserve">A</text>
<text transform="matrix(1.0343,0,0,1.1163,58.78,27.59)" font-size="21" font-weight="normal" xml:space="preserve">9000</text>
<text transform="matrix(1.0343,0,0,1.1163,95.14,479.40)" font-size="21" font-weight="normal" xml:space="preserve">0</text>
<text transform="matrix(1.0343,0,0,1.1163,58.92,429.23)" font-size="21" font-weight="normal" xml:space="preserve">1000</text>
<text transform="matrix(1.0343,0,0,1.1163,58.92,379.07)" font-size="21" font-weight="normal" xml:space="preserve">2000</text>
<text transform="matrix(1.0343,0,0,1.1163,58.92,328.90)" font-size="21" font-weight="normal" xml:space="preserve">3000</text>
<text transform="matrix(1.0343,0,0,1.1163,58.92,278.73)" font-size="21" font-weight="normal" xml:space="preserve">4000</text>
<text transform="matrix(1.0343,0,0,1.1163,58.92,228.57)" font-size="21" font-weight="normal" xml:space="preserve">5000</text>
<text transform="matrix(1.0343,0,0,1.1163,58.92,178.40)" font-size="21" font-weight="normal" xml:space="preserve">6000</text>
<text transform="matrix(1.0343,0,0,1.1163,58.92,128.23)" font-size="21" font-weight="normal" xml:space="preserve">7000</text>
<text transform="matrix(1.0343,0,0,1.1163,58.92,78.07)" font-size="21" font-weight="normal" xml:space="preserve">8000</text>
<text transform="matrix(1.0343,0,0,1.1163,119.99,505.15)" font-size="21" font-weight="normal" xml:space="preserve">1</text>
<text transform="matrix(1.0343,0,0,1.1163,292.54,505.15)" font-size="21" font-weight="normal" xml:space="preserve">10</text>
<text transform="matrix(1.0343,0,0,1.1163,462.95,505.30)" font-size="21" font-weight="normal" xml:space="preserve">100</text>
<text transform="matrix(1.0343,0,0,1.1163,633.59,505.15)" font-size="21" font-weight="normal" xml:space="preserve">1000</text>
<text transform="matrix(0,-1.0982,1.0379,0,22.48,369.10)" font-size="21" font-weight="normal" xml:space="preserve">AlphaScreen signal (counts)</text>
<text transform="matrix(1.0998,0,0,1.1402,278.81,545.15)" font-size="21" font-weight="normal" xml:space="preserve">[Stressed IgG] (<tspan font-family="Liberation Serif, serif">&#956;</tspan>g/ml)</text>
<text transform="matrix(1.0447,0,0,1.0866,240.55,68.61)" font-size="22" font-weight="normal" xml:space="preserve">mAb_A</text>
<text transform="matrix(1.0447,0,0,1.0866,240.46,102.20)" font-size="22" font-weight="normal" xml:space="preserve">mAb_B</text>
<text transform="matrix(1.0447,0,0,1.0866,240.46,135.30)" font-size="22" font-weight="normal" xml:space="preserve">mAb_C</text>
<text transform="matrix(1.0447,0,0,1.0866,240.52,170.60)" font-size="22" font-weight="normal" xml:space="preserve">pAb</text>
<text transform="matrix(1.0634,0,0,1.1000,3.74,635.70)" font-size="33" font-weight="bold" xml:space="preserve">B</text>
<text transform="matrix(1.0256,0,0,1.1500,68.67,628.90)" font-size="21" font-weight="normal" xml:space="preserve">100</text>
<text transform="matrix(1.1229,0,0,1.1500,91.25,1063.40)" font-size="21" font-weight="normal" xml:space="preserve">0</text>
<text transform="matrix(1.0345,0,0,1.1500,80.18,1020.00)" font-size="21" font-weight="normal" xml:space="preserve">10</text>
<text transform="matrix(1.0385,0,0,1.1500,79.93,976.80)" font-size="21" font-weight="normal" xml:space="preserve">20</text>
<text transform="matrix(1.0421,0,0,1.1500,79.79,933.40)" font-size="21" font-weight="normal" xml:space="preserve">30</text>
<text transform="matrix(1.0387,0,0,1.1500,79.91,890.20)" font-size="21" font-weight="normal" xml:space="preserve">40</text>
<text transform="matrix(1.0384,0,0,1.1500,79.83,846.40)" font-size="21" font-weight="normal" xml:space="preserve">50</text>
<text transform="matrix(1.0396,0,0,1.1500,79.84,803.00)" font-size="21" font-weight="normal" xml:space="preserve">60</text>
<text transform="matrix(1.0398,0,0,1.1500,79.84,760.00)" font-size="21" font-weight="normal" xml:space="preserve">70</text>
<text transform="matrix(1.0391,0,0,1.1500,79.86,716.40)" font-size="21" font-weight="normal" xml:space="preserve">80</text>
<text transform="matrix(1.0419,0,0,1.1500,79.79,672.60)" font-size="21" font-weight="normal" xml:space="preserve">90</text>
<text transform="matrix(0.7752,0,0,1.1500,121.57,1090.50)" font-size="21" font-weight="normal" xml:space="preserve">1</text>
<text transform="matrix(1.0098,0,0,1.1500,244.42,1090.50)" font-size="21" font-weight="normal" xml:space="preserve">10</text>
<text transform="matrix(1.0846,0,0,1.1500,366.95,1090.50)" font-size="21" font-weight="normal" xml:space="preserve">100</text>
<text transform="matrix(1.0437,0,0,1.1500,491.78,1090.50)" font-size="21" font-weight="normal" xml:space="preserve">1000</text>
<text transform="matrix(1.0323,0,0,1.1500,615.90,1090.50)" font-size="21" font-weight="normal" xml:space="preserve">10000</text>
<text transform="matrix(0,-1.1001,1.0560,0,36.03,1028.31)" font-size="21" font-weight="normal" xml:space="preserve">Relative AlphaScreen signal&#160; (%)</text>
<text transform="matrix(1.0992,0,0,1.1012,286.21,1148.71)" font-size="21" font-weight="normal" xml:space="preserve">[Stressed IgG] (<tspan font-family="Liberation Serif, serif">&#956;</tspan>g/ml)</text>
<text transform="matrix(1.0583,0,0,1.0480,250.64,680.67)" font-size="22" font-weight="normal" xml:space="preserve">mAb_A</text>
<text transform="matrix(1.0583,0,0,1.0480,250.63,716.80)" font-size="22" font-weight="normal" xml:space="preserve">mAb_B</text>
<text transform="matrix(1.0583,0,0,1.0480,250.63,755.60)" font-size="22" font-weight="normal" xml:space="preserve">mAb_C</text>
<text transform="matrix(1.0583,0,0,1.0480,250.67,789.10)" font-size="22" font-weight="normal" xml:space="preserve">pAb</text>
</g>
</svg>
</body></html>
